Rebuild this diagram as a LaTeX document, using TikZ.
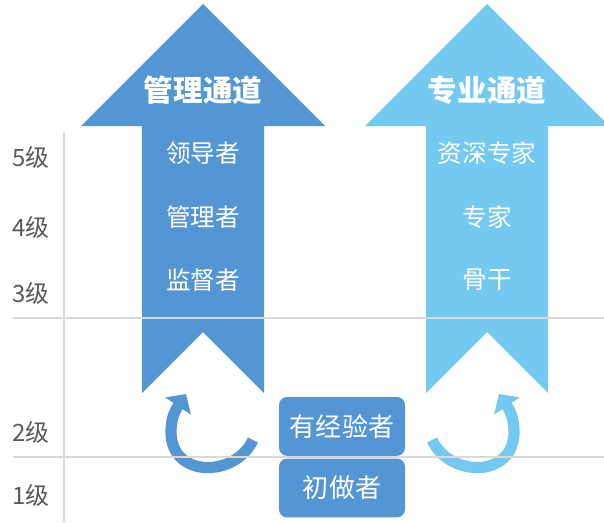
\documentclass[tikz,border=0pt]{standalone}
\usepackage{fontspec}
\setmainfont{Noto Sans CJK SC}
\usetikzlibrary{arrows.meta}
\definecolor{mgmtblue}{RGB}{84,150,211}
\definecolor{specblue}{RGB}{116,201,240}
\definecolor{gridgray}{RGB}{217,217,217}
\definecolor{levelgray}{RGB}{89,89,89}

\begin{document}
\begin{tikzpicture}
    \tikzstyle{gridline} = [gridgray, line width=1.2pt]
    \tikzstyle{headtext} = [text=white, font=\fontsize{21}{24}\selectfont\bfseries]
    \tikzstyle{roletext} = [text=white, font=\fontsize{17.5}{20}\selectfont]
    \tikzstyle{levellabel} = [text=levelgray, font=\fontsize{17}{19}\selectfont]
    \tikzstyle{stagebox} = [rectangle, rounded corners=0.2cm, fill=mgmtblue,
        text=white, minimum width=3.15cm, minimum height=1.47cm,
        font=\fontsize{18.5}{20}\selectfont]
    \tikzstyle{risearrow} = [line width=0.28cm,
        -{Triangle[length=0.36cm, width=0.75cm]}]

    \useasboundingbox (0,0) rectangle (15.1,-13.05);

    % the two big channel arrows
    \fill[mgmtblue] (5.075,-0.1) -- (8.125,-3.15) -- (6.6,-3.15) -- (6.6,-9.825)
        -- (5.075,-8.3) -- (3.55,-9.825) -- (3.55,-3.15) -- (2.025,-3.15) -- cycle;
    \fill[specblue] (12.175,-0.1) -- (15.225,-3.15) -- (13.7,-3.15) -- (13.7,-9.825)
        -- (12.175,-8.3) -- (10.65,-9.825) -- (10.65,-3.15) -- (9.125,-3.15) -- cycle;

    % curved arrows into the channels
    \coordinate(mgmttail) at (6.325,-11.0);
    \coordinate(mgmtturn) at (4.275,-10.8);
    \coordinate(mgmttip) at (4.65,-9.85);
    \coordinate(spectail) at (10.8,-11.0);
    \coordinate(specturn) at (12.85,-10.8);
    \coordinate(spectip) at (12.475,-9.85);
    \draw[risearrow, mgmtblue] (mgmttail) .. controls (5.875,-11.95) and
        (4.275,-11.95) .. (mgmtturn) .. controls (4.275,-10.5) and
        (4.35,-10.3) .. (mgmttip);
    \draw[risearrow, specblue] (spectail) .. controls (11.25,-11.95) and
        (12.85,-11.95) .. (specturn) .. controls (12.85,-10.5) and
        (12.775,-10.3) .. (spectip);

    % level grid
    \draw[gridline] (1.6,-3.325) -- (1.6,-13.05);
    \draw[gridline] (0.325,-7.95) -- (15.1,-7.95);
    \draw[gridline] (0.325,-11.425) -- (15.1,-11.425);

    \node(lvfive) [levellabel] at (0.775,-3.925) {5级};
    \node(lvfour) [levellabel] at (0.775,-5.675) {4级};
    \node(lvthree) [levellabel] at (0.775,-7.325) {3级};
    \node(lvtwo) [levellabel] at (0.775,-10.8) {2级};
    \node(lvone) [levellabel] at (0.775,-12.375) {1级};

    \node(mgmthead) [headtext] at (5.075,-2.25) {管理通道};
    \node(spechead) [headtext, right of=mgmthead, node distance=7.1cm]
        {专业通道};

    \node(leader) [roletext] at (5.075,-3.825) {领导者};
    \node(manager) [roletext, below of=leader, node distance=1.6cm] {管理者};
    \node(supervisor) [roletext, below of=manager, node distance=1.575cm]
        {监督者};
    \node(senior) [roletext, right of=leader, node distance=7.1cm] {资深专家};
    \node(expert) [roletext, right of=manager, node distance=7.1cm] {专家};
    \node(backbone) [roletext, right of=supervisor, node distance=7.1cm]
        {骨干};

    \node(experienced) [stagebox] at (8.55,-10.66) {有经验者};
    \node(beginner) [stagebox, below of=experienced, node distance=1.54cm]
        {初做者};
\end{tikzpicture}
\end{document}
